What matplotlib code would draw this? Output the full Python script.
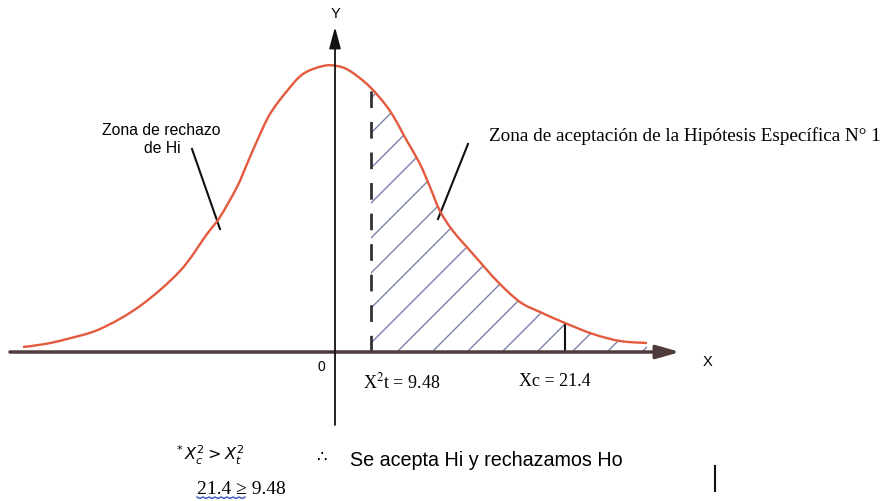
import numpy as np
import matplotlib
matplotlib.use('Agg')
import matplotlib.pyplot as plt
from matplotlib.patches import Polygon, PathPatch
from matplotlib.path import Path

# curve (pixel units, y grows downward)
curve_x = [23, 45, 67, 100, 140, 180, 207, 220, 237, 247, 257, 270, 287, 303, 323, 337,
           350, 370, 390, 407, 420, 430, 440, 453, 473, 497, 520, 540, 565, 593, 620, 647]
curve_y = [348, 345, 340, 330, 307, 272, 235, 218, 188, 165, 142, 115, 92, 75, 67, 67,
           72, 88, 112, 142, 165, 188, 212, 232, 255, 282, 303, 313, 324, 335, 342, 344]

x_axis_y = 353
y_axis_x = 335
x_critical = 371      # X2t = 9.48
x_calc = 565          # Xc = 21.4

label_rechazo = ['Zona de rechazo', 'de Hi']
label_acepta = 'Zona de aceptación de la Hipótesis Específica N° 1'
label_xt = r'X$^2$t = 9.48'
label_xc = 'Xc = 21.4'
label_cond = r'$^{*}\,X_c^{2} > X_t^{2}$'
label_vals = '21.4 ≥ 9.48'
label_concl = 'Se acepta Hi y rechazamos Ho'

sans = ['Liberation Sans', 'DejaVu Sans']
serif = ['Liberation Serif', 'DejaVu Serif']
plt.rcParams['mathtext.fontset'] = 'stix'

fig = plt.figure(figsize=(8.88, 5.02), dpi=100)
ax = fig.add_axes([0, 0, 1, 1])
ax.set_xlim(0, 888)
ax.set_ylim(502, 0)
ax.axis('off')

# smooth bezier path through the traced points (catmull-rom handles)
pts = np.column_stack([curve_x, curve_y]).astype(float)
padded = np.vstack([pts[0], pts, pts[-1]])
verts = [pts[0]]
codes = [Path.MOVETO]
for i in range(len(pts) - 1):
    p0, p1, p2, p3 = padded[i], padded[i + 1], padded[i + 2], padded[i + 3]
    verts += [p1 + (p2 - p0) / 6, p2 - (p3 - p1) / 6, p2]
    codes += [Path.CURVE4] * 3
curve_path = Path(verts, codes)
ax.add_patch(PathPatch(curve_path, facecolor='none', edgecolor='#e35a3e', lw=1.7, zorder=4))

flat = curve_path.to_polygons(closed_only=False)[0]
fx, fy = flat[:, 0], flat[:, 1]

# acceptance region (hatched)
top_crit = np.interp(x_critical, fx, fy)
mask = fx > x_critical
rx = np.concatenate([[x_critical], fx[mask], [fx[mask][-1], x_critical]])
ry = np.concatenate([[top_crit], fy[mask], [x_axis_y, x_axis_y]])
region = Polygon(np.column_stack([rx, ry]), closed=True, facecolor='none', edgecolor='none')
ax.add_patch(region)
for b in np.arange(397 - 35 * 9, 700, 35):
    ln, = ax.plot([b - 400, b + 400], [x_axis_y + 400, x_axis_y - 400],
                  color='#7c80a8', lw=1.0, zorder=2)
    ln.set_clip_path(region)

# dashed critical line and calculated value line
ax.plot([x_critical, x_critical], [x_axis_y, top_crit], color='#333333', lw=2.0,
        dashes=(6, 5), zorder=3)
ax.plot([x_calc, x_calc], [x_axis_y, np.interp(x_calc, fx, fy)], color='#111111', lw=1.5, zorder=3)

# axes with arrows
ax.annotate('', xy=(680, x_axis_y), xytext=(10, x_axis_y),
            arrowprops=dict(arrowstyle='-|>,head_length=1.4,head_width=0.4', color='#4f3b3b',
                            lw=2.5, mutation_scale=10, shrinkA=0, shrinkB=0), zorder=5)
ax.annotate('', xy=(y_axis_x, 28), xytext=(y_axis_x, 426),
            arrowprops=dict(arrowstyle='-|>,head_length=1.3,head_width=0.35', color='#111111',
                            lw=1.3, mutation_scale=10, shrinkA=0, shrinkB=0), zorder=5)
ax.text(y_axis_x, 14, 'Y', family=sans, fontsize=10.5, ha='center', va='center')
ax.text(708, 362, 'X', family=sans, fontsize=10.5, ha='center', va='center')
ax.text(321, 367, '0', family=sans, fontsize=10, ha='center', va='center')

# labels and pointers
ax.text(161, 131, label_rechazo[0], family=sans, fontsize=11.3, ha='center', va='center')
ax.text(162, 149, label_rechazo[1], family=sans, fontsize=11.3, ha='center', va='center')
ax.plot([192, 220], [150, 230], color='#111111', lw=1.5)
ax.text(489, 136, label_acepta, family=serif, fontsize=13.8, ha='left', va='center')
ax.plot([468, 438], [145, 220], color='#111111', lw=1.5)

ax.text(402, 382, label_xt, family=serif, fontsize=13, ha='center', va='center')
ax.text(555, 382, label_xc, family=serif, fontsize=13, ha='center', va='center')

# conclusion
ax.text(176, 455, label_cond, fontsize=11.5, ha='left', va='center', math_fontfamily='dejavusans')
ax.text(197, 490, label_vals, family=serif, fontsize=14, ha='left', va='center')
zz = np.arange(197, 246, 3)
ax.plot(zz, 498 + 1.5 * (np.arange(len(zz)) % 2), color='#3a4fc0', lw=1.0)
ax.text(322, 457, '∴', family=sans, fontsize=12, ha='center', va='center')
ax.text(350, 461, label_concl, family=sans, fontsize=14.2, ha='left', va='center')
ax.plot([715, 715], [467, 492], color='#111111', lw=1.5)

fig.savefig('out.png', dpi=100)
